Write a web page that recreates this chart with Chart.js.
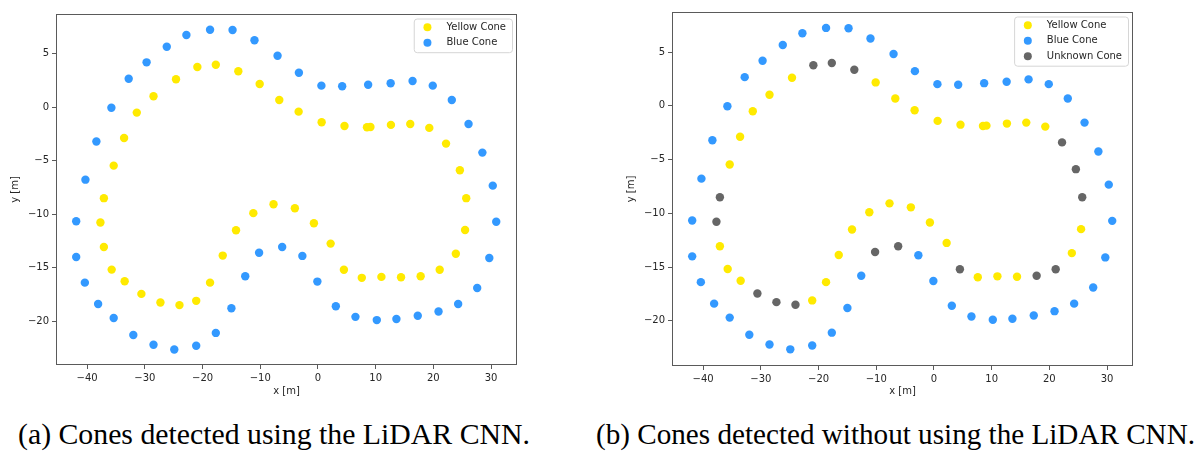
<!DOCTYPE html>
<html>
<head>
<meta charset="utf-8">
<script src="https://cdn.jsdelivr.net/npm/chart.js@4/dist/chart.umd.min.js"></script>
<style>
    html, body { margin: 0; padding: 0; background: #fff; }
    #page { position: relative; width: 1197px; height: 451px; overflow: hidden; }
    .panel { position: absolute; top: 0; width: 540px; height: 400px; }
    .caption {
        position: absolute;
        top: 421px;
        font-family: "Liberation Serif", "DejaVu Serif", serif;
        font-size: 28.5px;
        line-height: 1;
        color: #000;
        white-space: nowrap;
        transform-origin: 0 0;
    }
</style>
</head>
<body>
<div id="page">
    <div class="panel" style="left:0px"><canvas id="chartA" width="540" height="400"></canvas></div>
    <div class="panel" style="left:616px"><canvas id="chartB" width="540" height="400"></canvas></div>
    <div class="caption" id="capA" style="left:18px" data-width="512">(a) Cones detected using the LiDAR CNN.</div>
    <div class="caption" id="capB" style="left:596px" data-width="599">(b) Cones detected without using the LiDAR CNN.</div>
</div>
<script>
'use strict';

// axis ticks
const xTicks = [-40, -30, -20, -10, 0, 10, 20, 30];
const yTicks = [-20, -15, -10, -5, 0, 5];

const seriesLabels = ['Yellow Cone', 'Blue Cone', 'Unknown Cone'];

// (a) with the LiDAR CNN, [x, y] in metres
const yellowConesA = [
    [-37.1, -8.5], [-35.4, -5.46], [-33.6, -2.87], [-31.4, -0.5], [-28.5, 1.03], [-24.6, 2.62],
    [-20.9, 3.77], [-17.7, 3.98], [-13.8, 3.36], [-10.1, 2.18], [-6.7, 0.68], [-3.35, -0.41],
    [0.64, -1.4], [4.6, -1.75], [8.5, -1.87], [9.1, -1.84], [12.65, -1.65], [16.0, -1.56],
    [19.3, -1.93], [22.2, -3.4], [24.6, -5.89], [25.7, -8.5], [25.5, -11.47], [23.9, -13.7],
    [21.1, -15.2], [17.8, -15.8], [14.4, -15.9], [11.0, -15.86], [7.6, -15.95], [4.5, -15.2],
    [2.2, -12.75], [-0.7, -10.85], [-4.0, -9.44], [-7.7, -9.07], [-11.2, -9.9], [-14.2, -11.5],
    [-16.5, -13.87], [-18.7, -16.4], [-21.1, -18.1], [-24.0, -18.5], [-27.3, -18.26], [-30.6, -17.45],
    [-33.5, -16.27], [-35.75, -15.18], [-37.1, -13.06], [-37.7, -10.78]
];

const blueConesA = [
    [-18.7, 7.25], [-14.8, 7.22], [-11.0, 6.26], [-7.0, 4.82], [-3.3, 3.23], [0.6, 2.02],
    [4.2, 1.96], [8.7, 2.11], [12.6, 2.24], [16.4, 2.46], [19.9, 2.02], [23.2, 0.68],
    [26.1, -1.56], [28.5, -4.24], [30.3, -7.33], [30.9, -10.7], [29.7, -14.1], [27.6, -16.9],
    [24.3, -18.4], [20.9, -19.1], [17.3, -19.5], [13.6, -19.8], [10.2, -19.9], [6.5, -19.6],
    [3.1, -18.6], [-0.1, -16.3], [-2.7, -13.9], [-6.2, -13.06], [-10.2, -13.6], [-12.6, -15.8],
    [-15.0, -18.8], [-17.7, -21.1], [-21.1, -22.3], [-24.9, -22.65], [-28.5, -22.2], [-32.0, -21.3],
    [-35.4, -19.7], [-38.1, -18.4], [-40.4, -16.4], [-41.9, -14.0], [-41.9, -10.66], [-40.3, -6.77],
    [-38.4, -3.2], [-35.8, -0.04], [-32.8, 2.67], [-29.7, 4.2], [-26.2, 5.66], [-22.8, 6.76]
];

// (b) without the LiDAR CNN
const yellowConesB = [
    [-35.4, -5.46], [-33.6, -2.87], [-31.4, -0.5], [-28.5, 1.03], [-24.6, 2.62], [-10.1, 2.18],
    [-6.7, 0.68], [-3.35, -0.41], [0.64, -1.4], [4.6, -1.75], [8.5, -1.87], [9.1, -1.84],
    [12.65, -1.65], [16.0, -1.56], [19.3, -1.93], [25.5, -11.47], [23.9, -13.7], [14.4, -15.9],
    [11.0, -15.86], [7.6, -15.95], [2.2, -12.75], [-0.7, -10.85], [-4.0, -9.44], [-7.7, -9.07],
    [-11.2, -9.9], [-14.2, -11.5], [-16.5, -13.87], [-18.7, -16.4], [-21.1, -18.1], [-33.5, -16.27],
    [-35.75, -15.18], [-37.1, -13.06]
];

const blueConesB = [
    [-18.7, 7.25], [-14.8, 7.22], [-11.0, 6.26], [-7.0, 4.82], [-3.3, 3.23], [0.6, 2.02],
    [4.2, 1.96], [8.7, 2.11], [12.6, 2.24], [16.4, 2.46], [19.9, 2.02], [23.2, 0.68],
    [26.1, -1.56], [28.5, -4.24], [30.3, -7.33], [30.9, -10.7], [29.7, -14.1], [27.6, -16.9],
    [24.3, -18.4], [20.9, -19.1], [17.3, -19.5], [13.6, -19.8], [10.2, -19.9], [6.5, -19.6],
    [3.1, -18.6], [-0.1, -16.3], [-2.7, -13.9], [-12.6, -15.8],
    [-15.0, -18.8], [-17.7, -21.1], [-21.1, -22.3], [-24.9, -22.65], [-28.5, -22.2], [-32.0, -21.3],
    [-35.4, -19.7], [-38.1, -18.4], [-40.4, -16.4], [-41.9, -14.0], [-41.9, -10.66], [-40.3, -6.77],
    [-38.4, -3.2], [-35.8, -0.04], [-32.8, 2.67], [-29.7, 4.2], [-26.2, 5.66], [-22.8, 6.76]
];

const unknownConesB = [
    [-20.9, 3.77], [-17.7, 3.98], [-13.8, 3.36], [-37.1, -8.5], [-37.7, -10.78], [-30.6, -17.45],
    [-27.3, -18.26], [-24.0, -18.5], [-10.2, -13.6], [-6.2, -13.06], [4.5, -15.2], [17.8, -15.8],
    [21.1, -15.2], [25.7, -8.5], [22.2, -3.4], [24.6, -5.89]
];

(() => {
    const colors = ['#FFEA00', '#3399FF', '#666666'];
    const tickFont = { family: 'DejaVu Sans', size: 10 };
    const textColor = '#262626';
    const spineColor = '#5a5a5a';

    function toPoints(pairs) {
        return pairs.map(([x, y]) => ({ x, y }));
    }

    function minusSign(value) {
        return String(value).replace('-', '\u2212');
    }

    // matplotlib-like box round the axes plus the legend in the upper right
    const frameAndLegend = {
        id: 'frameAndLegend',
        afterDatasetsDraw(chart) {
            const { ctx, chartArea } = chart;
            ctx.save();
            ctx.strokeStyle = spineColor;
            ctx.lineWidth = 1;
            ctx.strokeRect(chartArea.left + 0.5, chartArea.top + 0.5,
                chartArea.right - chartArea.left - 1, chartArea.bottom - chartArea.top - 1);

            const datasets = chart.data.datasets;
            ctx.font = '10px "DejaVu Sans"';
            const maxText = Math.max(...datasets.map((d) => ctx.measureText(d.label).width));
            const rowHeight = 15.5;
            const boxRight = chartArea.right - 5;
            const boxTop = chartArea.top + 4.5;
            const boxWidth = 32.7 + maxText + 6;
            const boxHeight = rowHeight * datasets.length + 2.7;
            const boxLeft = boxRight - boxWidth;

            ctx.beginPath();
            ctx.roundRect(boxLeft + 0.5, boxTop + 0.5, boxWidth, boxHeight, 3);
            ctx.fillStyle = 'rgba(255,255,255,0.8)';
            ctx.fill();
            ctx.strokeStyle = '#d6d6d6';
            ctx.stroke();

            datasets.forEach((dataset, i) => {
                const rowY = boxTop + 8.7 + i * rowHeight;
                ctx.beginPath();
                ctx.arc(boxLeft + 13.7, rowY, 4, 0, Math.PI * 2);
                ctx.fillStyle = dataset.backgroundColor;
                ctx.fill();
                ctx.fillStyle = textColor;
                ctx.textBaseline = 'middle';
                ctx.textAlign = 'left';
                ctx.fillText(dataset.label, boxLeft + 32.7, rowY);
            });
            ctx.restore();
        }
    };

    function buildChart(canvasId, seriesList, layout) {
        const datasets = seriesList.map((pairs, i) => ({
            label: seriesLabels[i],
            data: toPoints(pairs),
            backgroundColor: colors[i],
            borderColor: colors[i],
            borderWidth: 0,
            pointRadius: 4.2,
            pointHoverRadius: 4.2,
            order: seriesList.length - i
        }));

        return new Chart(document.getElementById(canvasId), {
            type: 'scatter',
            data: { datasets },
            plugins: [frameAndLegend],
            options: {
                responsive: false,
                animation: false,
                layout: { padding: { top: layout.top, right: 23, left: 0, bottom: 0 } },
                scales: {
                    x: {
                        type: 'linear',
                        min: -45.4,
                        max: 34.5,
                        afterBuildTicks: (scale) => { scale.ticks = xTicks.map((value) => ({ value })); },
                        afterFit: (scale) => { scale.height = layout.xHeight; },
                        grid: { drawOnChartArea: false, drawTicks: true, tickLength: 4, color: spineColor },
                        border: { display: false },
                        ticks: { font: tickFont, color: textColor, padding: 3, maxRotation: 0, callback: minusSign },
                        title: {
                            display: true,
                            text: 'x [m]',
                            font: tickFont,
                            color: textColor,
                            padding: { top: 2, bottom: 3 }
                        }
                    },
                    y: {
                        type: 'linear',
                        min: layout.yMin,
                        max: layout.yMax,
                        afterBuildTicks: (scale) => { scale.ticks = yTicks.map((value) => ({ value })); },
                        afterFit: (scale) => { scale.width = 56; },
                        grid: { drawOnChartArea: false, drawTicks: true, tickLength: 4, color: spineColor },
                        border: { display: false },
                        ticks: { font: tickFont, color: textColor, padding: 3, callback: minusSign },
                        title: {
                            display: true,
                            text: 'y [m]',
                            font: tickFont,
                            color: textColor,
                            padding: { top: 9, bottom: 3 }
                        }
                    }
                },
                plugins: {
                    legend: { display: false },
                    tooltip: { enabled: false }
                }
            }
        });
    }

    // stretch the serif captions to the width the LaTeX font takes
    function fitCaptions() {
        document.querySelectorAll('.caption').forEach((caption) => {
            const target = parseFloat(caption.dataset.width);
            const actual = caption.getBoundingClientRect().width;
            if (actual > 0) {
                caption.style.transform = `scaleX(${target / actual})`;
            }
        });
    }

    buildChart('chartA', [yellowConesA, blueConesA], { top: 14, xHeight: 35, yMin: -24.1, yMax: 8.72 });
    buildChart('chartB', [yellowConesB, blueConesB, unknownConesB], { top: 12, xHeight: 34, yMin: -24.2, yMax: 8.73 });
    fitCaptions();
})();
</script>
</body>
</html>
